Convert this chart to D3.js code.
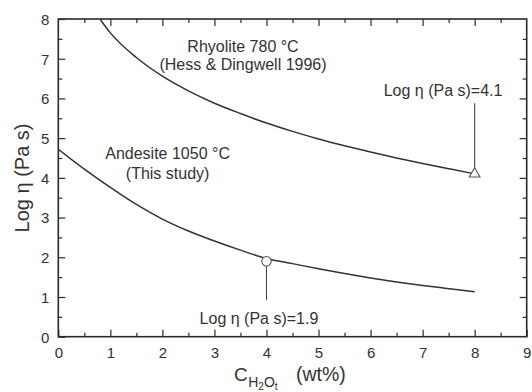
<!DOCTYPE html>
<html>
<head>
<meta charset="utf-8">
<script src="https://cdn.jsdelivr.net/npm/d3@7"></script>
<style>
  html, body { margin: 0; padding: 0; background: #fff; }
  svg { display: block; font-family: "Liberation Sans", Arial, sans-serif; }
</style>
</head>
<body>
<svg id="chart" width="532" height="392"></svg>
<script>
// Water content (wt%) and log viscosity along each melt curve
const rhyoliteX = [0.8, 1, 1.5, 2, 2.5, 3, 3.5, 4, 4.5, 5, 5.5, 6, 6.5, 7, 7.5, 8];
const rhyoliteY = [8.0, 7.65, 7.03, 6.56, 6.19, 5.88, 5.62, 5.38, 5.17, 4.98, 4.81, 4.65, 4.50, 4.36, 4.23, 4.10];

const andesiteX = [0, 0.5, 1, 1.5, 2, 2.5, 3, 3.5, 4, 4.5, 5, 5.5, 6, 6.5, 7, 7.5, 8];
const andesiteY = [4.72, 4.22, 3.76, 3.33, 2.96, 2.66, 2.41, 2.18, 1.97, 1.84, 1.71, 1.59, 1.48, 1.38, 1.29, 1.21, 1.13];

// Highlighted values
const markerX = [8, 4];
const markerY = [4.1, 1.9];
const markerShape = ["triangle", "circle"];

const xTicks = [0, 1, 2, 3, 4, 5, 6, 7, 8, 9];
const yTicks = [0, 1, 2, 3, 4, 5, 6, 7, 8];
const xMinor = d3.range(0.5, 9, 1);
const yMinor = d3.range(0.5, 8, 1);

const svg = d3.select("#chart");
const m = { left: 58.3, right: 526.7, top: 19, bottom: 336.7 };
const x = d3.scaleLinear().domain([0, 9]).range([m.left, m.right]);
const y = d3.scaleLinear().domain([0, 8]).range([m.bottom, m.top]);

const ink = "#2a2a2a";
const textInk = "#333";
const majorLen = 7, minorLen = 4;

// Inward ticks on all four sides
function ticks(axisGen, vals, len, transform, labels) {
  const g = svg.append("g").attr("transform", transform)
    .call(axisGen.tickValues(vals).tickSizeInner(-len).tickSizeOuter(0)
      .tickFormat(labels ? d3.format("d") : ""));
  g.select(".domain").remove();
  g.selectAll(".tick line").attr("stroke", ink).attr("stroke-width", 1.2);
  return g;
}
const xb = ticks(d3.axisBottom(x), xTicks, majorLen, `translate(0,${m.bottom})`, true);
ticks(d3.axisBottom(x), xMinor, minorLen, `translate(0,${m.bottom})`, false);
ticks(d3.axisTop(x), xTicks.slice(1, -1), majorLen, `translate(0,${m.top})`, false);
ticks(d3.axisTop(x), xMinor, minorLen, `translate(0,${m.top})`, false);
const yl = ticks(d3.axisLeft(y), yTicks, majorLen, `translate(${m.left},0)`, true);
ticks(d3.axisLeft(y), yMinor, minorLen, `translate(${m.left},0)`, false);
ticks(d3.axisRight(y), yTicks.slice(1, -1), majorLen, `translate(${m.right},0)`, false);
ticks(d3.axisRight(y), yMinor, minorLen, `translate(${m.right},0)`, false);

xb.selectAll(".tick text").attr("y", 0).attr("dy", "1.4em")
  .style("font-size", "15px").style("font-family", "Liberation Sans, Arial, sans-serif").attr("fill", textInk);
yl.selectAll(".tick text").attr("x", -9).attr("dy", "0.36em")
  .style("font-size", "15px").style("font-family", "Liberation Sans, Arial, sans-serif").attr("fill", textInk);

// Frame
svg.append("rect")
  .attr("x", m.left).attr("y", m.top)
  .attr("width", m.right - m.left).attr("height", m.bottom - m.top)
  .attr("fill", "none").attr("stroke", ink).attr("stroke-width", 1.6);

// Curves
svg.append("clipPath").attr("id", "plot")
  .append("rect").attr("x", m.left).attr("y", m.top)
  .attr("width", m.right - m.left).attr("height", m.bottom - m.top);

const line = d3.line().x(d => x(d[0])).y(d => y(d[1])).curve(d3.curveMonotoneX);
[[rhyoliteX, rhyoliteY], [andesiteX, andesiteY]].forEach(([xs, ys]) => {
  svg.append("path")
    .attr("d", line(xs.map((v, i) => [v, ys[i]])))
    .attr("fill", "none").attr("stroke", "#333").attr("stroke-width", 1.5)
    .attr("clip-path", "url(#plot)");
});

// Curve labels
function label(cx, y0, gap, lines) {
  const t = svg.append("text").attr("text-anchor", "middle")
    .attr("fill", textInk).style("font-size", "16px");
  lines.forEach((s, i) => t.append("tspan").attr("x", cx).attr("y", y0 + i * gap).text(s));
}
label(243, 52, 17.5, ["Rhyolite 780 °C", "(Hess & Dingwell 1996)"]);
label(167.6, 159, 19.5, ["Andesite 1050 °C", "(This study)"]);

// Markers with leader lines and value labels
const leader = [
  { dx: -31.6, base: -78, lineTop: -70.7, lineBot: -5 },
  { dx: -7.5, base: 62.5, lineTop: 5, lineBot: 39 }
];
markerX.forEach((mx, i) => {
  const px = x(mx), py = y(markerY[i]), L = leader[i];
  svg.append("line")
    .attr("x1", px).attr("x2", px)
    .attr("y1", py + L.lineTop).attr("y2", py + L.lineBot)
    .attr("stroke", "#444").attr("stroke-width", 1.1);
  svg.append("text").attr("x", px + L.dx).attr("y", py + L.base)
    .attr("text-anchor", "middle").attr("fill", textInk).style("font-size", "16px")
    .text(`Log η (Pa s)=${markerY[i]}`);
  const sym = markerShape[i] === "triangle" ? d3.symbolTriangle : d3.symbolCircle;
  const sz = markerShape[i] === "triangle" ? 50 : 70;
  svg.append("path")
    .attr("d", d3.symbol().type(sym).size(sz)())
    .attr("transform", `translate(${px},${py})`)
    .attr("fill", "#fff").attr("stroke", "#555").attr("stroke-width", 1.1);
});

// Axis titles
svg.append("text")
  .attr("transform", `translate(29,178) rotate(-90)`)
  .attr("text-anchor", "middle").attr("fill", textInk).style("font-size", "20px")
  .text("Log η (Pa s)");

// C with the H2O,t subscript, followed by the unit
const xt = svg.append("text").attr("y", 381).attr("fill", textInk);
xt.append("tspan").attr("x", 234).style("font-size", "19px").text("C");
xt.append("tspan").attr("dx", 0.5).attr("dy", 6).style("font-size", "14px").text("H");
xt.append("tspan").attr("dy", 3).style("font-size", "10px").text("2");
xt.append("tspan").attr("dy", -3).style("font-size", "14px").text("O");
xt.append("tspan").attr("dy", 3).style("font-size", "10px").text("t");
xt.append("tspan").attr("x", 296).attr("dy", -9).style("font-size", "19.5px").text("(wt%)");
</script>
</body>
</html>
